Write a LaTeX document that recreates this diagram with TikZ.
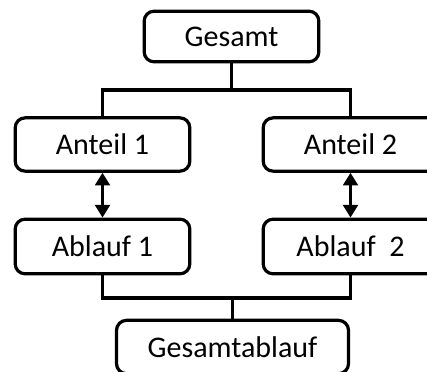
\documentclass[tikz,border=0pt]{standalone}
\usepackage{fontspec}
\setmainfont{Carlito}
\usetikzlibrary{arrows.meta}
\begin{document}
\begin{tikzpicture}[x=0.75pt,y=-0.75pt,
  box/.style={draw=black,line width=2.4pt,rounded corners=7.5pt,fill=white,
    inner sep=0pt,font=\fontsize{22.5}{26}\selectfont},
  conn/.style={draw=black,line width=2.4pt},
  dbl/.style={draw=black,line width=2.4pt,{Triangle[width=11pt,length=9.5pt]}-{Triangle[width=11pt,length=9.5pt]}}]
\useasboundingbox (0,0) rectangle (427,371);
\clip (0,0) rectangle (427,371);
\fill[white] (0,0) rectangle (427,371);
\node[box,minimum width=131pt,minimum height=38pt] (G) at (231.5,36.5) {Gesamt};
\node[box,minimum width=131pt,minimum height=40pt] (A1) at (102.5,144.5) {Anteil 1};
\node[box,minimum width=131pt,minimum height=40pt] (A2) at (350.5,144.5) {Anteil 2};
\node[box,minimum width=131pt,minimum height=41pt] (B1) at (102.5,246.5) {Ablauf 1};
\node[box,minimum width=131pt,minimum height=41pt] (B2) at (350.5,246.5) {Ablauf~~2};
\node[box,minimum width=174pt,minimum height=40pt] (GA) at (232.5,347) {Gesamtablauf};
\coordinate (j1) at (231.5,90);
\coordinate (j2) at (232.5,298);
\draw[conn] (G.south) -- (j1);
\draw[conn] (A1.north) |- (j1) -| (A2.north);
\draw[conn] (B1.south) |- (j2) -| (B2.south);
\draw[conn] (j2) -- (GA.north);
\draw[dbl] (A1.south) -- (B1.north);
\draw[dbl] (A2.south) -- (B2.north);
\end{tikzpicture}
\end{document}
